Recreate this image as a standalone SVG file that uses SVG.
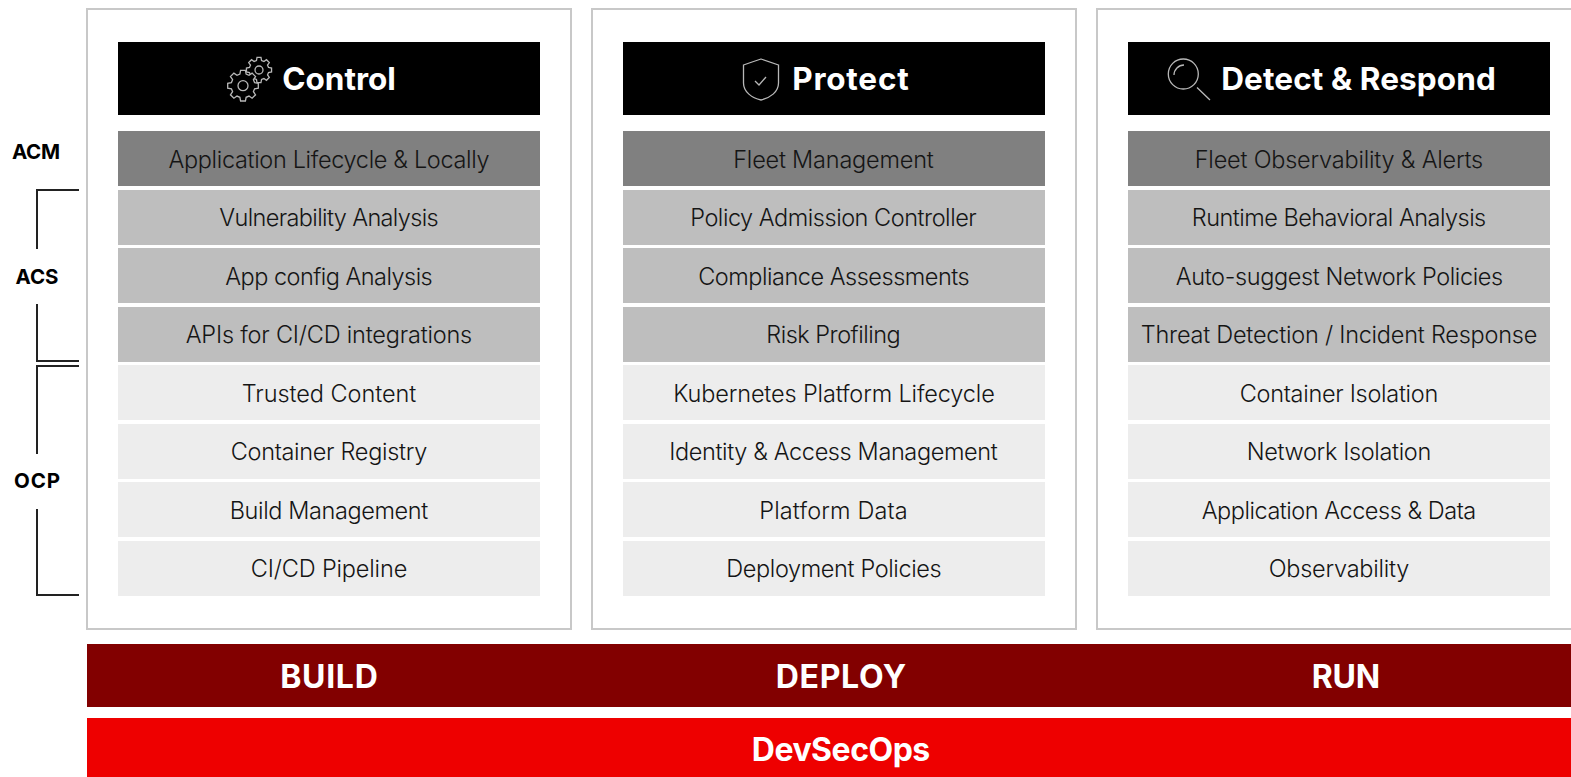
<svg xmlns="http://www.w3.org/2000/svg" width="1571" height="777" viewBox="0 0 1571 777">
<defs>
<path id="gear" d="M11.59 -3.11L15.31 -2.42L15.31 2.42L11.59 3.11L10.39 6L12.54 9.11L9.11 12.54L6 10.39L3.11 11.59L2.42 15.31L-2.42 15.31L-3.11 11.59L-6 10.39L-9.11 12.54L-12.54 9.11L-10.39 6L-11.59 3.11L-15.31 2.42L-15.31 -2.42L-11.59 -3.11L-10.39 -6L-12.54 -9.11L-9.11 -12.54L-6 -10.39L-3.11 -11.59L-2.42 -15.31L2.42 -15.31L3.11 -11.59L6 -10.39L9.11 -12.54L12.54 -9.11L10.39 -6Z"/>
</defs>
<style>
text{font-family:"Inter","Liberation Sans",sans-serif;text-anchor:middle;fill:#151515}
.panel{fill:#fff;stroke:#c8c8c8;stroke-width:2}
.head{fill:#000}
.a{fill:#808080}.b{fill:#bebebe}.c{fill:#ededed}
.r{font-size:23.500px;font-weight:300}
.h{font-size:31.500px;font-weight:700;fill:#fff}
.side{font-size:20.500px;font-weight:700;fill:#000}
.bar{font-size:32px;font-weight:700;fill:#fff}
.ln{fill:none;stroke:#222;stroke-width:2}
.ic{fill:#000;stroke:#b8b8b8;stroke-width:1.300}
</style>
<rect width="1571" height="777" fill="#fff"/>
<g id="connectors">
<path class="ln" d="M79 190H37V249"/><path class="ln" d="M37 304V361H79"/><path class="ln" d="M79 366H37V454"/><path class="ln" d="M37 509V595H79"/>
</g>
<g id="labels">
<text class="side" x="36" y="159" textLength="48">ACM</text><text class="side" x="37" y="284" textLength="43">ACS</text><text class="side" x="37" y="488" textLength="46">OCP</text>
</g>
<g id="control">
<rect class="panel" x="87" y="9" width="484" height="620"/>
<rect class="head" x="118" y="42" width="422" height="73"/>
<g class="ic"><use href="#gear" transform="translate(259 70) scale(.82)" stroke-width="1.600"/><circle cx="259" cy="70" r="4"/><use href="#gear" transform="translate(243 85.700)"/><circle cx="243" cy="85.700" r="5"/></g>
<text class="h" x="339" y="90" textLength="113.500">Control</text>
<rect class="a" x="118" y="131" width="422" height="55"/><text class="r" x="329" y="168" textLength="321">Application Lifecycle &amp; Locally</text>
<rect class="b" x="118" y="190" width="422" height="55"/><text class="r" x="329" y="226" textLength="219.500">Vulnerability Analysis</text>
<rect class="b" x="118" y="248" width="422" height="55"/><text class="r" x="329" y="285" textLength="207.500">App config Analysis</text>
<rect class="b" x="118" y="307" width="422" height="55"/><text class="r" x="329" y="343" textLength="286.500">APIs for CI/CD integrations</text>
<rect class="c" x="118" y="365" width="422" height="55"/><text class="r" x="329" y="402" textLength="174.500">Trusted Content</text>
<rect class="c" x="118" y="424" width="422" height="55"/><text class="r" x="329" y="460" textLength="196.500">Container Registry</text>
<rect class="c" x="118" y="482" width="422" height="55"/><text class="r" x="329" y="519" textLength="198.500">Build Management</text>
<rect class="c" x="118" y="541" width="422" height="55"/><text class="r" x="329" y="577" textLength="156.500">CI/CD Pipeline</text>
</g>
<g id="protect">
<rect class="panel" x="592" y="9" width="484" height="620"/>
<rect class="head" x="623" y="42" width="422" height="73"/>
<path class="ic" d="M743.500 65V83C743.500 92 752 98 761 100C770 98 778.500 92 778.500 83V65Q770 62 761 59Q752 62 743.500 65Z"/><path class="ic" fill="none" d="M755 81L759 85L766 77"/>
<text class="h" x="850.500" y="90" textLength="116.500">Protect</text>
<rect class="a" x="623" y="131" width="422" height="55"/><text class="r" x="833.500" y="168" textLength="200.500">Fleet Management</text>
<rect class="b" x="623" y="190" width="422" height="55"/><text class="r" x="833.500" y="226" textLength="286.500">Policy Admission Controller</text>
<rect class="b" x="623" y="248" width="422" height="55"/><text class="r" x="834" y="285" textLength="271.500">Compliance Assessments</text>
<rect class="b" x="623" y="307" width="422" height="55"/><text class="r" x="833.500" y="343" textLength="134.500">Risk Profiling</text>
<rect class="c" x="623" y="365" width="422" height="55"/><text class="r" x="834" y="402" textLength="321.500">Kubernetes Platform Lifecycle</text>
<rect class="c" x="623" y="424" width="422" height="55"/><text class="r" x="833.500" y="460" textLength="328.500">Identity &amp; Access Management</text>
<rect class="c" x="623" y="482" width="422" height="55"/><text class="r" x="833.500" y="519" textLength="148.500">Platform Data</text>
<rect class="c" x="623" y="541" width="422" height="55"/><text class="r" x="834" y="577" textLength="215.500">Deployment Policies</text>
</g>
<g id="detect">
<rect class="panel" x="1097" y="9" width="490" height="620"/>
<rect class="head" x="1128" y="42" width="422" height="73"/>
<circle class="ic" cx="1183.300" cy="74" r="15"/><path class="ic" fill="none" d="M1174 75A10 10 0 0 1 1184 65M1197 87.500L1210 100"/>
<text class="h" x="1358.500" y="90" textLength="274.500">Detect &amp; Respond</text>
<rect class="a" x="1128" y="131" width="422" height="55"/><text class="r" x="1339" y="168" textLength="288.500">Fleet Observability &amp; Alerts</text>
<rect class="b" x="1128" y="190" width="422" height="55"/><text class="r" x="1339" y="226" textLength="294.500">Runtime Behavioral Analysis</text>
<rect class="b" x="1128" y="248" width="422" height="55"/><text class="r" x="1339.500" y="285" textLength="327.500">Auto-suggest Network Policies</text>
<rect class="b" x="1128" y="307" width="422" height="55"/><text class="r" x="1339" y="343" textLength="396.500">Threat Detection / Incident Response</text>
<rect class="c" x="1128" y="365" width="422" height="55"/><text class="r" x="1339" y="402" textLength="198.500">Container Isolation</text>
<rect class="c" x="1128" y="424" width="422" height="55"/><text class="r" x="1339" y="460" textLength="184.500">Network Isolation</text>
<rect class="c" x="1128" y="482" width="422" height="55"/><text class="r" x="1339" y="519" textLength="274.500">Application Access &amp; Data</text>
<rect class="c" x="1128" y="541" width="422" height="55"/><text class="r" x="1339" y="577" textLength="140.500">Observability</text>
</g>
<g id="stages">
<rect x="87" y="644" width="1484" height="63" fill="#820000"/>
<text class="bar" x="329" y="688" textLength="97.500">BUILD</text><text class="bar" x="841" y="688" textLength="130.500">DEPLOY</text><text class="bar" x="1346" y="688" textLength="68.500">RUN</text>
</g>
<g id="devsecops">
<rect x="87" y="718" width="1484" height="59" fill="#ee0000"/>
<text class="bar" x="841" y="761" textLength="178.500">DevSecOps</text>
</g>
</svg>
